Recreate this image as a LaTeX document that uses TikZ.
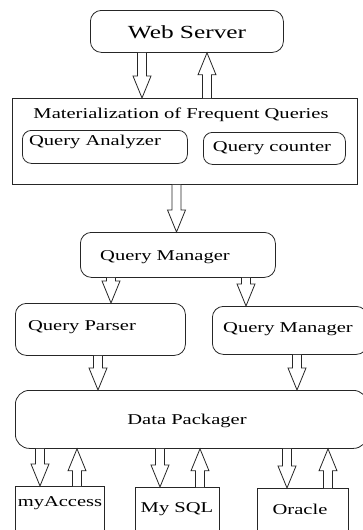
\documentclass[tikz,border=0pt]{standalone}
\usepackage{fontspec}
\setmainfont{Liberation Serif}[FakeStretch=1.37]
\usetikzlibrary{calc}
\tikzset{
  rbox/.style={draw=black!85, line width=0.8pt, rounded corners=11pt, inner sep=0pt, anchor=north west},
  sbox/.style={draw=black!85, line width=0.8pt, inner sep=0pt, anchor=north west},
  txt/.style={anchor=base, inner sep=0pt, font=\fontsize{15}{18}\selectfont},
  bigtxt/.style={anchor=base, inner sep=0pt, font=\fontsize{18.5}{22}\selectfont},
  arr/.style={draw=black!85, line width=0.8pt, fill=white}
}
\newcommand\downarr[2]{\draw[arr] let \p1=(#1), \p2=(#2) in
  (\x1-4.5pt,\y1) -- (\x1-4.5pt,\y2+22pt) -- (\x1-9pt,\y2+22pt) -- (\x1,\y2)
  -- (\x1+9pt,\y2+22pt) -- (\x1+4.5pt,\y2+22pt) -- (\x1+4.5pt,\y1);}
\newcommand\uparr[2]{\draw[arr] let \p1=(#1), \p2=(#2) in
  (\x1-4.5pt,\y1) -- (\x1-4.5pt,\y2-22pt) -- (\x1-9pt,\y2-22pt) -- (\x1,\y2)
  -- (\x1+9pt,\y2-22pt) -- (\x1+4.5pt,\y2-22pt) -- (\x1+4.5pt,\y1);}
\begin{document}
\begin{tikzpicture}[x=1pt,y=-1pt]
\useasboundingbox (0,0) rectangle (363,530);
% boxes
\node[rbox, minimum width=193pt, minimum height=42pt] (ws) at (90,10) {};
\node[sbox, minimum width=345pt, minimum height=86pt] (mat) at (12,98) {};
\node[rbox, rounded corners=9pt, minimum width=165pt, minimum height=33pt] (qa) at (22,130) {};
\node[rbox, rounded corners=9pt, minimum width=142pt, minimum height=32pt] (qc) at (203,132) {};
\node[rbox, minimum width=195pt, minimum height=45pt] (qm) at (80,232) {};
\node[rbox, minimum width=170pt, minimum height=52pt] (qp) at (15,303) {};
\node[rbox, minimum width=155pt, minimum height=48pt] (qm2) at (212,306) {};
\node[rbox, rounded corners=14pt, minimum width=352pt, minimum height=58pt] (dp) at (15,390) {};
\node[sbox, minimum width=89pt, minimum height=50pt] (ma) at (15,486) {};
\node[sbox, minimum width=84pt, minimum height=49pt] (ms) at (135,487) {};
\node[sbox, minimum width=91pt, minimum height=48pt] (or) at (257,488) {};
% texts
\node[bigtxt] (tws) at (187,38) {Web Server};
\node[txt] (tmat) at (181,118) {Materialization of Frequent Queries};
\node[txt] (tqa) at (95,145) {Query Analyzer};
\node[txt] (tqc) at (272,151) {Query counter};
\node[txt] (tqm) at (165,260) {Query Manager};
\node[txt] (tqp) at (82,330) {Query Parser};
\node[txt] (tqm2) at (288,332) {Query Manager};
\node[txt] (tdp) at (187,424) {Data Packager};
\node[txt] (tma) at (60,506) {myAccess};
\node[txt] (tms) at (177,512) {My SQL};
\node[txt] (tor) at (300,514) {Oracle};
% arrow columns
\coordinate (c1) at (142,0);
\coordinate (c2) at (207,0);
\coordinate (c3) at (176.5,0);
\coordinate (c4) at (111,0);
\coordinate (c5) at (246,0);
\coordinate (c6) at (98,0);
\coordinate (c7) at (297,0);
\coordinate (c8) at (40,0);
\coordinate (c9) at (77,0);
\coordinate (c10) at (160,0);
\coordinate (c11) at (200,0);
\coordinate (c12) at (287,0);
\coordinate (c13) at (328,0);
% arrows
\downarr{ws.south -| c1}{mat.north -| c1}
\uparr{mat.north -| c2}{ws.south -| c2}
\downarr{mat.south -| c3}{qm.north -| c3}
\downarr{qm.south -| c4}{qp.north -| c4}
\downarr{qm.south -| c5}{qm2.north -| c5}
\downarr{qp.south -| c6}{dp.north -| c6}
\downarr{qm2.south -| c7}{dp.north -| c7}
\downarr{dp.south -| c8}{ma.north -| c8}
\uparr{ma.north -| c9}{dp.south -| c9}
\downarr{dp.south -| c10}{ms.north -| c10}
\uparr{ms.north -| c11}{dp.south -| c11}
\downarr{dp.south -| c12}{or.north -| c12}
\uparr{or.north -| c13}{dp.south -| c13}
\end{tikzpicture}
\end{document}
